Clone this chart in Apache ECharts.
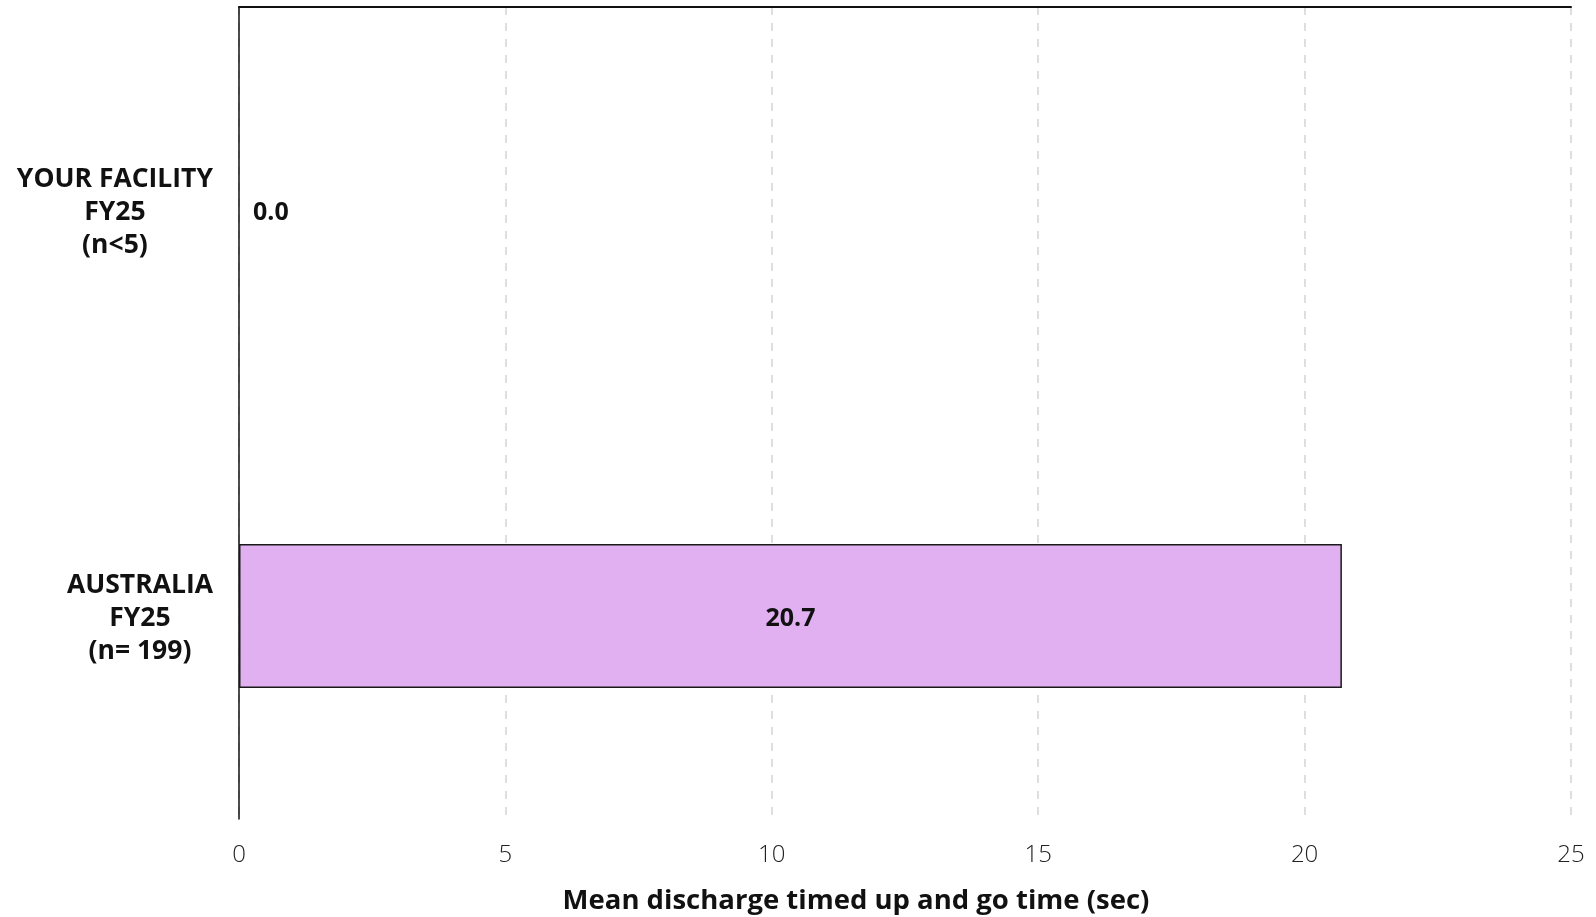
<!DOCTYPE html>
<html>
<head>
<meta charset="utf-8">
<script src="https://cdn.jsdelivr.net/npm/echarts@6/dist/echarts.min.js"></script>
<style>html,body{margin:0;padding:0;background:#fff}#c{width:1596px;height:917px}</style>
</head>
<body>
<div id="c"></div>
<script>
const categories = ['YOUR FACILITY\nFY25\n(n<5)', 'AUSTRALIA\nFY25\n(n= 199)'];
const values = [0.0, 20.7];
const xTicks = [0, 5, 10, 15, 20, 25];
const axisTitle = 'Mean discharge timed up and go time (sec)';

const FONT = '"Open Sans", "Noto Sans", sans-serif';
const chart = echarts.init(document.getElementById('c'), null, {renderer: 'canvas'});

const data = values.map(v => ({
  value: v,
  label: { position: v < 3 ? 'right' : 'inside', distance: 14 },
  itemStyle: v === 0 ? { borderWidth: 0 } : {}
}));

chart.setOption({
  animation: false,
  backgroundColor: '#fff',
  grid: { left: 239, right: 25, top: 7, bottom: 98, containLabel: false, outerBoundsMode: 'none' },
  xAxis: [{
    type: 'value',
    position: 'bottom',
    min: xTicks[0], max: xTicks[xTicks.length - 1], interval: 5,
    axisLine: { show: false },
    axisTick: { show: false },
    axisLabel: { color: '#222', fontSize: 24, fontFamily: FONT, fontWeight: 300, margin: 24 },
    splitLine: { show: true, lineStyle: { color: '#d4d4d4', type: [8, 8], width: 1.5 } },
    name: axisTitle,
    nameLocation: 'middle',
    nameGap: 68,
    nameTextStyle: { color: '#111', fontSize: 27.5, fontWeight: 'bold', fontFamily: FONT, padding: [0, 98, 0, 0] }
  }, {
    type: 'value',
    position: 'top',
    min: xTicks[0], max: xTicks[xTicks.length - 1], interval: 5,
    axisLine: { show: true, onZero: false, lineStyle: { color: '#111', width: 2 } },
    axisTick: { show: false },
    axisLabel: { show: false },
    splitLine: { show: false }
  }],
  yAxis: {
    type: 'category',
    data: categories,
    inverse: true,
    axisLine: { show: true, lineStyle: { color: '#111', width: 1.5 } },
    axisTick: { show: false },
    axisLabel: {
      align: 'right',
      margin: 26,
      padding: [4, 0, 0, 0],
      formatter: v => v.split('\n').map(l => '{c|' + l + '}').join('\n'),
      rich: { c: { align: 'center', color: '#111', fontSize: 26.5, fontWeight: 'bold', fontFamily: FONT, lineHeight: 33 } }
    }
  },
  series: [{
    type: 'bar',
    xAxisIndex: 0,
    data: data,
    barWidth: '35.5%',
    itemStyle: { color: '#E0B0F0', borderColor: '#1a1a1a', borderWidth: 1.5 },
    label: {
      show: true,
      offset: [0, 3],
      formatter: p => p.value.toFixed(1),
      color: '#111', fontSize: 25, fontWeight: 'bold', fontFamily: FONT
    }
  }]
});
</script>
</body>
</html>
